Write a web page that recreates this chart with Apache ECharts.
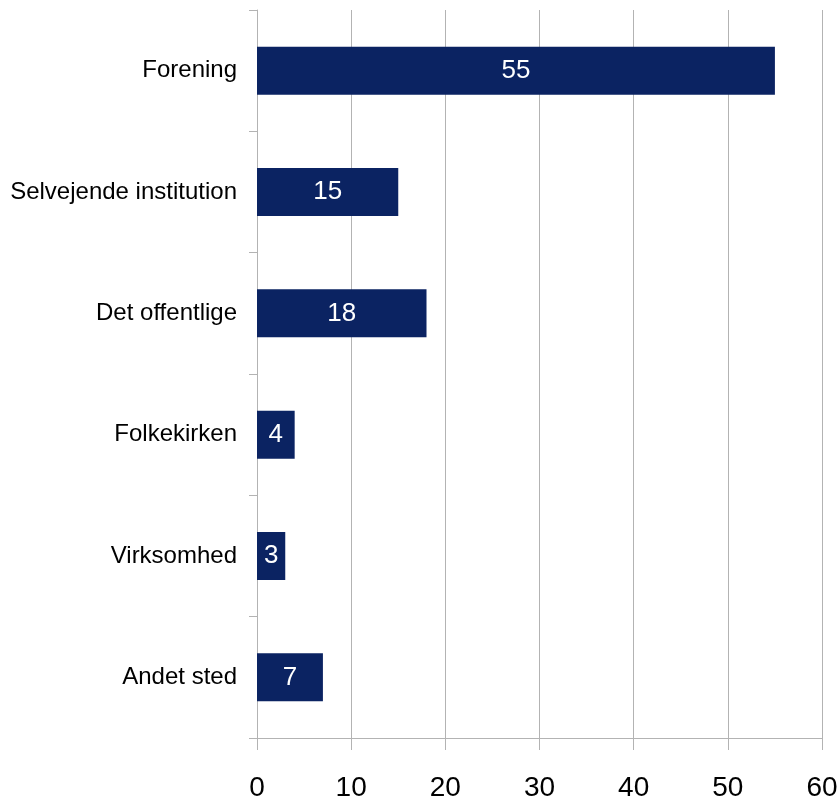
<!DOCTYPE html>
<html>
<head>
<meta charset="utf-8">
<script src="https://cdn.jsdelivr.net/npm/echarts@6/dist/echarts.min.js"></script>
<style>
  html, body { margin: 0; padding: 0; background: #ffffff; }
  #main { width: 838px; height: 807px; }
</style>
</head>
<body>
<div id="main"></div>
<script>
// data
var categories = [
  "Forening",
  "Selvejende institution",
  "Det offentlige",
  "Folkekirken",
  "Virksomhed",
  "Andet sted",
];
var values = [55, 15, 18, 4, 3, 7];

var fontFamily = '"Liberation Sans Narrow", "Liberation Sans", Arial, sans-serif';
var gray = "#b3b3b3";

var chart = echarts.init(document.getElementById("main"));
var option = {
  backgroundColor: "#ffffff",
  animation: false,
  grid: {
    left: 257,
    right: 16,
    top: 10,
    bottom: 69,
    containLabel: false,
    outerBoundsMode: "none",
  },
  xAxis: {
    type: "value",
    min: 0,
    max: 60,
    interval: 10,
    axisLine: { show: true, lineStyle: { color: gray } },
    axisTick: { show: true, length: 12, lineStyle: { color: gray } },
    splitLine: { show: true, lineStyle: { color: gray, width: 1 } },
    axisLabel: {
      color: "#000000",
      fontFamily: fontFamily,
      fontSize: 28,
      margin: 50,
      verticalAlign: "middle",
      lineHeight: 28,
    },
  },
  yAxis: {
    type: "category",
    inverse: true,
    data: categories,
    axisLine: { show: true, lineStyle: { color: gray } },
    axisTick: { show: true, length: 8, lineStyle: { color: gray } },
    axisLabel: {
      color: "#000000",
      fontFamily: fontFamily,
      fontSize: 24,
      margin: 20,
    },
  },
  series: [
    {
      type: "bar",
      data: values,
      barWidth: 48,
      itemStyle: { color: "#0b2362" },
      label: {
        show: true,
        position: "inside",
        color: "#ffffff",
        fontFamily: fontFamily,
        fontSize: 26,
      },
    },
  ],
};
chart.setOption(option);
</script>
</body>
</html>
